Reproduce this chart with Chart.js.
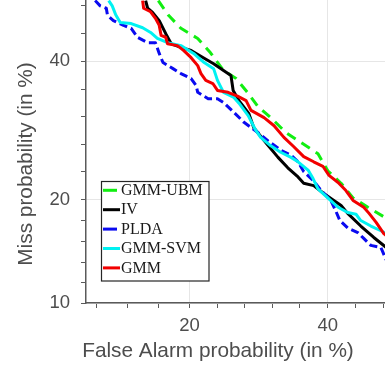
<!DOCTYPE html>
<html>
<head>
<meta charset="utf-8">
<script src="https://cdn.jsdelivr.net/npm/chart.js@4.4.1/dist/chart.umd.min.js"></script>
<style>
html,body{margin:0;padding:0;background:#fff;}
#wrap{width:385px;height:368px;position:relative;}
</style>
</head>
<body>
<div id="wrap"><canvas id="c"></canvas></div>
<script>
// ---- data (percent) ----
const seriesNames = ['GMM-UBM', 'IV', 'PLDA', 'GMM-SVM', 'GMM'];

const gmmUbmFA   = [16.5,17.6,19.0,21.0,22.6,24.3,26.0,27.6,29.1,31.0,33.3,35.6,38.4,40.0,42.2,44.2,46.7,49.7];
const gmmUbmMiss = [50.2,47.7,45.5,43.8,41.4,38.5,37.2,35.0,32.8,31.1,28.9,27.5,25.9,23.6,22.0,20.2,19.1,17.9];

const ivFA   = [15.2,15.4,15.9,16.6,17.3,17.9,19.0,20.2,21.8,23.0,24.3,25.3,25.6,26.4,27.8,28.5,30.4,32.1,33.6,35.2,36.1,37.7,39.4,41.0,42.2,43.3,45.5,47.7,49.8];
const ivMiss = [50.2,48.9,48.2,46.8,44.6,42.9,42.3,41.8,40.5,39.6,38.5,37.7,35.3,33.7,31.7,29.6,27.3,25.4,24.0,22.8,22.0,21.7,20.7,19.9,19.3,18.4,17.0,15.8,14.8];

const pldaFA   = [10.7,11.1,11.6,11.7,12.2,13.1,13.8,14.4,15.4,16.2,16.6,17.0,18.1,19.0,20.2,20.8,21.0,22.3,23.5,24.3,25.6,27.1,29.1,30.6,32.5,34.1,35.2,36.1,37.7,38.9,40.5,41.3,42.0,43.3,45.0,46.0,47.2,48.9,49.8];
const pldaMiss = [50.2,49.3,48.9,47.7,46.8,46.0,45.5,44.0,43.1,43.1,41.3,39.8,38.8,38.0,37.2,36.1,35.0,34.0,34.0,33.4,32.0,30.4,28.9,27.7,26.4,25.7,24.8,23.5,22.3,21.1,19.9,18.7,17.6,16.8,16.3,15.7,15.0,14.8,13.6];

const gmmSvmFA   = [11.8,12.1,12.4,12.8,13.8,14.9,15.7,16.4,17.5,19.0,20.5,21.8,23.0,23.5,24.3,25.7,26.4,27.7,28.8,29.5,31.0,32.5,34.1,35.2,36.8,37.6,38.4,40.0,41.7,43.3,44.7,45.5,47.2,48.9,49.8];
const gmmSvmMiss = [50.2,49.3,47.8,46.5,46.3,45.6,44.8,43.8,43.1,42.6,41.3,39.8,38.8,36.9,35.0,34.2,33.3,31.4,29.2,28.2,27.0,26.1,25.4,24.8,23.7,22.6,21.3,20.2,19.1,18.5,18.3,17.6,17.0,16.5,16.2];

const gmmFA   = [14.9,15.0,15.7,16.2,16.6,16.8,17.3,17.5,18.6,19.3,20.2,21.0,21.4,22.0,22.9,23.5,24.9,26.2,27.4,28.1,30.0,31.5,33.0,34.5,36.1,37.7,39.2,40.2,41.7,43.0,44.2,46.0,46.9,48.1,49.4,49.8];
const gmmMiss = [50.2,48.9,48.3,47.2,46.0,44.3,44.0,42.9,42.6,41.8,40.6,39.3,38.0,36.9,36.4,35.3,35.0,34.4,33.7,32.2,31.1,29.9,28.2,26.9,25.5,24.8,24.2,23.0,22.1,21.1,19.9,19.1,18.4,17.4,16.2,16.0];

// ---- tick labels (percent) ----
const xMajorTicks = [20, 40];
const yMajorTicks = [10, 20, 40];
const xMinorTicks = [10.8, 13.5, 16.5, 23.5, 27.2, 31.3, 35.5, 44.6, 49.3];
const yMinorTicks = [11.6, 13.4, 15.4, 17.6, 23.5, 27.2, 31.3, 35.5, 44.6, 49.3];
const xRange = [10, 49.6];
const yRange = [10, 50.3];

const xTitle = 'False Alarm probability (in %)';
const yTitle = 'Miss probability (in %)';

// inverse normal CDF (probit) for the DET axes
function probit(p){
  const a=[-3.969683028665376e+01,2.209460984245205e+02,-2.759285104469687e+02,1.383577518672690e+02,-3.066479806614716e+01,2.506628277459239e+00];
  const b=[-5.447609879822406e+01,1.615858368580409e+02,-1.556989798598866e+02,6.680131188771972e+01,-1.328068155288572e+01];
  const c=[-7.784894002430293e-03,-3.223964580411365e-01,-2.400758277161838e+00,-2.549732539343734e+00,4.374664141464968e+00,2.938163982698783e+00];
  const d=[7.784695709041462e-03,3.224671290700398e-01,2.445134137142996e+00,3.754408661907416e+00];
  const pl=0.02425, ph=1-pl; let q,r;
  if(p<pl){q=Math.sqrt(-2*Math.log(p));return (((((c[0]*q+c[1])*q+c[2])*q+c[3])*q+c[4])*q+c[5])/((((d[0]*q+d[1])*q+d[2])*q+d[3])*q+1);}
  if(p<=ph){q=p-0.5;r=q*q;return (((((a[0]*r+a[1])*r+a[2])*r+a[3])*r+a[4])*r+a[5])*q/(((((b[0]*r+b[1])*r+b[2])*r+b[3])*r+b[4])*r+1);}
  q=Math.sqrt(-2*Math.log(1-p));return -(((((c[0]*q+c[1])*q+c[2])*q+c[3])*q+c[4])*q+c[5])/((((d[0]*q+d[1])*q+d[2])*q+d[3])*q+1);
}
const P = v => probit(v/100);
const pts = (fa, miss) => fa.map((v,i) => ({x: P(v), y: P(miss[i])}));

function tickList(majors, minors){
  const t = majors.map(v => ({value: P(v), label: String(v), major: true}))
    .concat(minors.map(v => ({value: P(v), label: '', major: false})));
  t.sort((a,b) => a.value - b.value);
  return t;
}
const xTicks = tickList(xMajorTicks, xMinorTicks);
const yTicks = tickList(yMajorTicks, yMinorTicks);

const colors = ['#11ee11', '#000000', '#0a0af0', '#00f2f2', '#f20000'];
const dashes = [[10,7], [], [8,4], [], []];
const seriesData = [pts(gmmUbmFA,gmmUbmMiss), pts(ivFA,ivMiss), pts(pldaFA,pldaMiss), pts(gmmSvmFA,gmmSvmMiss), pts(gmmFA,gmmMiss)];

const datasets = seriesNames.map((n,i) => ({
  label: n, data: seriesData[i], borderColor: colors[i], backgroundColor: colors[i],
  borderDash: dashes[i], borderWidth: 3, pointRadius: 0, tension: 0, fill: false,
  clip: 0, order: 5 - i, borderJoinStyle: 'round'
}));

const TXT = '#4d4d4d';
const AX = '#5a5a5a';

const titlesPlugin = {
  id: 'titles',
  afterDraw(chart){
    const ctx = chart.ctx;
    ctx.save();
    ctx.fillStyle = TXT;
    ctx.font = '20.8px "Liberation Sans", Arial, sans-serif';
    ctx.textAlign = 'center';
    ctx.textBaseline = 'alphabetic';
    ctx.fillText(xTitle, 218, 356.5);
    ctx.translate(32.3, 164);
    ctx.rotate(-Math.PI/2);
    ctx.fillText(yTitle, 0, 0);
    ctx.restore();
  }
};

const legendPlugin = {
  id: 'boxLegend',
  afterDraw(chart){
    const ctx = chart.ctx;
    const x0 = 101.5, y0 = 181.5, w = 107.5, h = 99.5;
    ctx.save();
    ctx.fillStyle = '#fff';
    ctx.fillRect(x0, y0, w, h);
    ctx.strokeStyle = '#262626';
    ctx.lineWidth = 1.2;
    ctx.strokeRect(x0, y0, w, h);
    ctx.font = '16px "Liberation Serif", "Times New Roman", serif';
    ctx.textBaseline = 'middle';
    ctx.textAlign = 'left';
    const rows = [190.3, 209.7, 229.1, 248.5, 267.9];
    chart.data.datasets.forEach((ds, i) => {
      const y = rows[i];
      ctx.strokeStyle = ds.borderColor;
      ctx.lineWidth = 3;
      ctx.setLineDash([]);
      ctx.beginPath();
      ctx.moveTo(103, y);
      ctx.lineTo(ds.borderDash.length ? 117 : 120, y);
      ctx.stroke();
      ctx.fillStyle = '#1a1a1a';
      ctx.fillText(ds.label, 121, y + 0.5);
    });
    ctx.restore();
  }
};

function axisOpts(ticksArr, range, isX){
  return {
    type: 'linear',
    min: P(range[0]), max: P(range[1]),
    afterBuildTicks: s => { s.ticks = ticksArr.map(t => ({value: t.value})); },
    afterFit: s => {
      if (isX) s.height = 65; else s.width = 86;
      s.paddingTop = 0; s.paddingBottom = 0; s.paddingLeft = 0; s.paddingRight = 0;
    },
    ticks: {
      autoSkip: false, maxRotation: 0, minRotation: 0,
      padding: isX ? 7 : 11,
      color: TXT,
      font: {family: '"Liberation Sans", Arial, sans-serif', size: 18.5},
      callback: (v, i) => ticksArr[i] ? ticksArr[i].label : ''
    },
    grid: {
      drawTicks: true, tickLength: 5,
      color: c => (c.tick && ticksArr[c.index] && ticksArr[c.index].major) ? '#e6e6e6' : 'rgba(0,0,0,0)',
      tickColor: AX, lineWidth: 1, tickWidth: 1
    },
    border: {display: true, color: AX, width: 1.5}
  };
}

new Chart(document.getElementById('c'), {
  type: 'line',
  data: {datasets},
  options: {
    responsive: true, maintainAspectRatio: false, animation: false,
    layout: {padding: 0},
    plugins: {legend: {display: false}, tooltip: {enabled: false}},
    scales: {
      x: axisOpts(xTicks, xRange, true),
      y: axisOpts(yTicks, yRange, false)
    }
  },
  plugins: [titlesPlugin, legendPlugin]
});
</script>
</body>
</html>
